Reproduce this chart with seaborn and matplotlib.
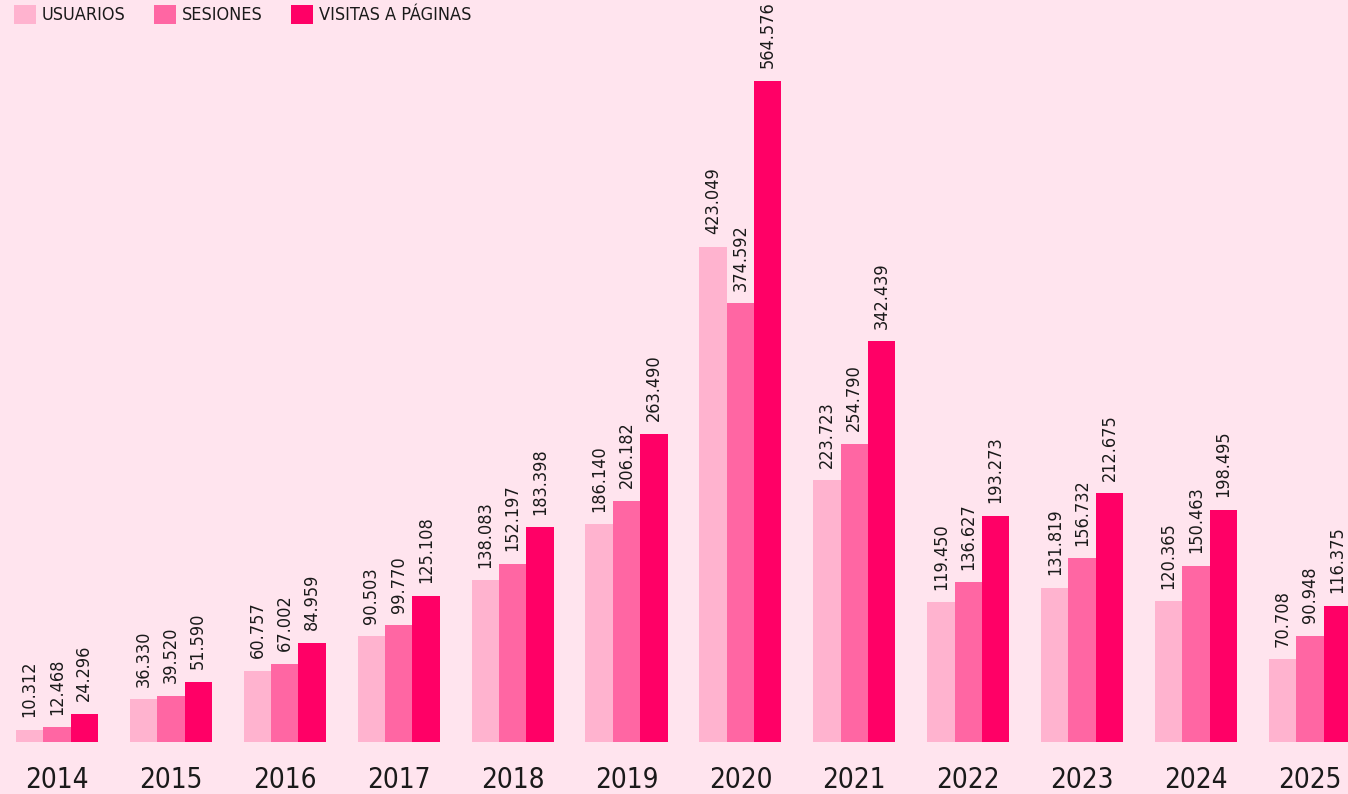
import matplotlib
matplotlib.use("Agg")
import matplotlib.pyplot as plt
import seaborn as sns
import pandas as pd
from matplotlib.patches import Patch

years = ["2014", "2015", "2016", "2017", "2018", "2019", "2020", "2021", "2022", "2023", "2024", "2025"]
usuarios = [10312, 36330, 60757, 90503, 138083, 186140, 423049, 223723, 119450, 131819, 120365, 70708]
sesiones = [12468, 39520, 67002, 99770, 152197, 206182, 374592, 254790, 136627, 156732, 150463, 90948]
visitas = [24296, 51590, 84959, 125108, 183398, 263490, 564576, 342439, 193273, 212675, 198495, 116375]
series_names = ["USUARIOS", "SESIONES", "VISITAS A PÁGINAS"]
colors = ["#FFB3CF", "#FF66A3", "#FF0066"]
bg = "#FFE4EE"

rows = []
for name, vals in zip(series_names, [usuarios, sesiones, visitas]):
    for y, v in zip(years, vals):
        rows.append({"year": y, "serie": name, "value": v})
df = pd.DataFrame(rows)

sns.set_theme(style="white")
plt.rcParams["font.family"] = ["DejaVu Sans"]
plt.rcParams["font.stretch"] = "condensed"

W, H = 1348, 794
fig = plt.figure(figsize=(W / 100, H / 100), dpi=100, facecolor=bg)
base_px = 742
ax = fig.add_axes([0, (H - base_px) / H, 1, base_px / H])
ax.set_facecolor(bg)

sns.barplot(data=df, x="year", y="value", hue="serie", hue_order=series_names,
            palette=colors, width=0.72, saturation=1, ax=ax, legend=False,
            edgecolor="none")

def fmt(v):
    return f"{int(v):,}".replace(",", ".")

for cont in ax.containers:
    ax.bar_label(cont, labels=[fmt(b.get_height()) for b in cont], rotation=90,
                 padding=9, fontsize=13, color="#1a1a1a", fontstretch="condensed")

ax.set_ylim(0, 564576 * base_px / 661)
pitch = 113.9
ax.set_xlim(-57 / pitch, -57 / pitch + W / pitch)
ax.set_xlabel("")
ax.set_ylabel("")
ax.set_yticks([])
ax.tick_params(axis="x", length=0, pad=17, labelsize=20, labelcolor="#1a1a1a")
for lab in ax.get_xticklabels():
    lab.set_fontstretch("condensed")
for s in ax.spines.values():
    s.set_visible(False)

handles = [Patch(facecolor=c, edgecolor="none") for c in colors]
leg = fig.legend(handles, series_names, loc="upper left", bbox_to_anchor=(14 / W, 1 - 5 / H),
           ncol=3, frameon=False, fontsize=13, handlelength=1.22, handleheight=1.22,
           handletextpad=0.3, columnspacing=1.6, borderaxespad=0, borderpad=0,
           labelcolor="#1a1a1a")
for t in leg.get_texts():
    t.set_fontstretch("condensed")

fig.savefig("out.png", dpi=100, facecolor=bg)
